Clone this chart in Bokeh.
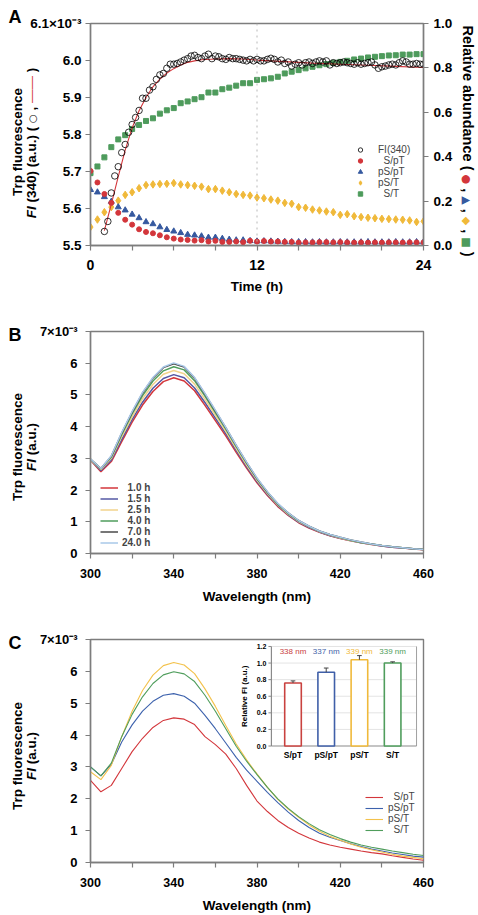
import math
from bokeh.plotting import figure
from bokeh.models import (Range1d, LinearAxis, FixedTicker, CustomJSTickFormatter,
                          Legend, LegendItem, Span, Div)
from bokeh.layouts import column
from bokeh.embed import file_html
from bokeh.resources import INLINE
from bokeh.core.properties import value

FONT = "Liberation Sans"
AX = "#7d7d7d"

C_RED = "#d3363b"
C_BLUE = "#36599f"
C_YEL = "#f0b93a"
C_GRN = "#4e9b5c"

# ---------------- Panel A data ----------------
fi_time = [1.0, 1.25, 1.5, 1.75, 2.0, 2.25, 2.5, 2.75, 3.0, 3.25, 3.5, 3.75, 4.0, 4.25, 4.5, 4.75,
           5.0, 5.25, 5.5, 5.75, 6.0, 6.25, 6.5, 6.75, 7.0, 7.25, 7.5, 7.75, 8.0, 8.25, 8.5, 8.75,
           9.0, 9.25, 9.5, 9.75, 10.0, 10.25, 10.5, 10.75, 11.0, 11.25, 11.5, 11.75, 12.0, 12.25,
           12.5, 12.75, 13.0, 13.25, 13.5, 13.75, 14.0, 14.25, 14.5, 14.75, 15.0, 15.25, 15.5,
           15.75, 16.0, 16.25, 16.5, 16.75, 17.0, 17.25, 17.5, 17.75, 18.0, 18.25, 18.5, 18.75,
           19.0, 19.25, 19.5, 19.75, 20.0, 20.25, 20.5, 20.75, 21.0, 21.25, 21.5, 21.75, 22.0,
           22.25, 22.5, 22.75, 23.0, 23.25, 23.5, 23.75, 24.0]
fi_340 = [5.538, 5.565, 5.642, 5.688, 5.713, 5.751, 5.773, 5.806, 5.827, 5.846, 5.865, 5.898,
          5.898, 5.920, 5.929, 5.949, 5.961, 5.965, 5.979, 5.990,
          5.990, 5.992, 5.996, 6.001, 6.005, 6.012, 6.014, 6.008, 6.005, 6.012, 6.017, 6.005,
          6.012, 6.010, 6.005, 6.003, 6.008, 6.005, 6.005, 6.003, 6.001, 5.999, 6.003, 5.999, 6.003,
          5.999, 5.999, 6.003, 6.006, 6.003, 5.996, 6.001, 5.992,
          5.996, 5.985, 5.990, 5.994, 5.988, 5.994, 5.996, 5.992,
          5.996, 5.999, 5.996, 5.999, 5.988, 5.994, 5.992, 5.994,
          5.996, 5.994, 5.992, 5.990, 5.994, 5.990, 5.992, 5.994,
          5.996, 5.988, 5.979, 5.983, 5.985, 5.988, 5.990, 5.988,
          5.994, 5.999, 5.996, 5.990, 5.990, 5.992, 5.990, 5.990]
fit_time = [1.0, 1.5, 2.0, 2.5, 3.0, 3.5, 4.0, 4.5, 5.0, 5.5, 6.0, 6.5, 7.0, 7.5, 8.0, 9.0, 10.0,
            11.0, 12.0, 14.0, 16.0, 18.0, 20.0, 22.0, 24.0]
fit_fi = [5.540, 5.612, 5.686, 5.758, 5.818, 5.864, 5.900, 5.929, 5.950, 5.966, 5.978, 5.988,
          5.995, 5.999, 6.002, 6.004, 6.005, 6.004, 6.001, 5.997, 5.993, 5.990, 5.987, 5.984, 5.981]

ab_time = [0.0, 0.5, 1.0, 1.5, 2.0, 2.5, 3.0, 3.5, 4.0, 4.5, 5.0, 5.5, 6.0, 6.5, 7.0, 7.5, 8.0,
           8.5, 9.0, 9.5, 10.0, 10.5, 11.0, 11.5, 12.0, 12.5, 13.0, 13.5, 14.0, 14.5, 15.0, 15.5,
           16.0, 16.5, 17.0, 17.5, 18.0, 18.5, 19.0, 19.5, 20.0, 20.5, 21.0, 21.5, 22.0, 22.5,
           23.0, 23.5, 24.0]
ab_S_pT = [0.336, 0.284, 0.232, 0.192, 0.147, 0.116, 0.094, 0.073, 0.061, 0.055, 0.046, 0.037,
           0.031, 0.027, 0.025, 0.022, 0.024, 0.018, 0.021, 0.016, 0.016, 0.018, 0.015, 0.021, 0.018,
           0.020, 0.018, 0.018, 0.016, 0.016, 0.013, 0.014, 0.014, 0.015, 0.015, 0.014, 0.015,
           0.014, 0.013, 0.014, 0.013, 0.014, 0.013, 0.014, 0.014, 0.013, 0.014, 0.014, 0.014]
ab_pS_pT = [0.251, 0.240, 0.219, 0.198, 0.173, 0.159, 0.140, 0.124, 0.106, 0.097, 0.083, 0.071,
            0.064, 0.057, 0.049, 0.046, 0.042, 0.036, 0.036, 0.031, 0.027, 0.024, 0.024, 0.021, 0.019,
            0.020, 0.019, 0.018, 0.017, 0.016, 0.016, 0.016, 0.015, 0.016, 0.015, 0.015, 0.016,
            0.015, 0.015, 0.015, 0.016, 0.015, 0.015, 0.015, 0.016, 0.015, 0.015, 0.016, 0.016]
ab_pS_T = [0.083, 0.117, 0.150, 0.173, 0.202, 0.228, 0.240, 0.258, 0.272, 0.275, 0.277, 0.278,
           0.281, 0.275, 0.272, 0.269, 0.265, 0.254, 0.254, 0.247, 0.240, 0.232, 0.228, 0.225, 0.216,
           0.213, 0.207, 0.202, 0.192, 0.188, 0.173, 0.170, 0.162, 0.158, 0.153, 0.150, 0.138,
           0.141, 0.132, 0.128, 0.125, 0.123, 0.120, 0.119, 0.117, 0.116, 0.113, 0.106, 0.109]
ab_S_T = [0.326, 0.356, 0.397, 0.443, 0.478, 0.497, 0.525, 0.543, 0.561, 0.573, 0.594, 0.609,
          0.619, 0.641, 0.649, 0.659, 0.668, 0.689, 0.689, 0.704, 0.711, 0.720, 0.731, 0.731, 0.746,
          0.749, 0.753, 0.760, 0.775, 0.783, 0.790, 0.798, 0.805, 0.812, 0.817, 0.823, 0.827,
          0.832, 0.838, 0.842, 0.847, 0.850, 0.853, 0.856, 0.857, 0.860, 0.860, 0.862, 0.862]
a_left_ticks = [5.5, 5.6, 5.7, 5.8, 5.9, 6.0, 6.1]
a_right_ticks = [0.0, 0.2, 0.4, 0.6, 0.8, 1.0]
a_x_ticks = [0, 12, 24]
a_x_minor = [3, 6, 9, 15, 18, 21]

# ---------------- Panel B data ----------------
wl = [300, 305, 310, 315, 320, 325, 330, 335, 340, 345, 350, 355, 360, 365, 370, 375, 380,
      385, 390, 395, 400, 405, 410, 415, 420, 425, 430, 435, 440, 445, 450, 455, 460]
b_1_0h = [2.94, 2.58, 2.90, 3.53, 4.14, 4.68, 5.11, 5.42, 5.54, 5.44, 5.13, 4.67, 4.19, 3.71, 3.19,
          2.69, 2.23, 1.83, 1.48, 1.20, 0.97, 0.80, 0.67, 0.56, 0.47, 0.40, 0.34, 0.28, 0.24, 0.20,
          0.17, 0.14, 0.12]
b_1_5h = [2.95, 2.62, 2.95, 3.60, 4.22, 4.77, 5.21, 5.52, 5.64, 5.54, 5.22, 4.76, 4.27, 3.78, 3.25,
          2.74, 2.27, 1.86, 1.51, 1.22, 0.99, 0.82, 0.68, 0.57, 0.48, 0.41, 0.34, 0.29, 0.24, 0.20,
          0.17, 0.15, 0.13]
b_2_5h = [2.96, 2.65, 3.00, 3.68, 4.31, 4.88, 5.33, 5.65, 5.77, 5.67, 5.34, 4.86, 4.36, 3.85, 3.31,
          2.79, 2.31, 1.89, 1.53, 1.24, 1.01, 0.84, 0.69, 0.58, 0.49, 0.41, 0.35, 0.29, 0.25, 0.21,
          0.18, 0.15, 0.13]
b_4_0h = [2.97, 2.67, 3.04, 3.75, 4.40, 4.98, 5.44, 5.76, 5.89, 5.79, 5.45, 4.96, 4.44, 3.92, 3.37,
          2.84, 2.35, 1.92, 1.55, 1.26, 1.03, 0.85, 0.70, 0.59, 0.50, 0.42, 0.35, 0.30, 0.25, 0.21,
          0.18, 0.15, 0.13]
b_7_0h = [2.98, 2.68, 3.07, 3.80, 4.46, 5.06, 5.53, 5.86, 5.98, 5.88, 5.53, 5.03, 4.50, 3.97, 3.41,
          2.87, 2.37, 1.94, 1.57, 1.28, 1.04, 0.86, 0.71, 0.60, 0.51, 0.43, 0.36, 0.30, 0.25, 0.21,
          0.18, 0.15, 0.13]
b_24_0h = [2.98, 2.68, 3.08, 3.82, 4.48, 5.08, 5.55, 5.88, 6.01, 5.90, 5.55, 5.05, 4.52, 3.98, 3.42,
           2.88, 2.38, 1.95, 1.58, 1.28, 1.04, 0.86, 0.71, 0.60, 0.51, 0.43, 0.36, 0.30, 0.25, 0.21,
           0.18, 0.15, 0.13]
b_labels = ["  1.0 h", "  1.5 h", "  2.5 h", "  4.0 h", "  7.0 h", "24.0 h"]
b_colors = ["#d3363b", "#5558a4", "#f2d38c", "#4f9d5c", "#4a4a4a", "#a9c8e8"]

# ---------------- Panel C data ----------------
c_S_pT = [2.58, 2.22, 2.42, 2.95, 3.48, 3.90, 4.24, 4.46, 4.54, 4.50, 4.33, 3.95, 3.70, 3.40, 2.95,
          2.42, 1.93, 1.60, 1.32, 1.10, 0.92, 0.77, 0.64, 0.55, 0.48, 0.42, 0.36, 0.31, 0.27, 0.21,
          0.16, 0.11, 0.07]
c_pS_pT = [3.00, 2.72, 3.08, 3.78, 4.32, 4.75, 5.06, 5.25, 5.30, 5.22, 5.00, 4.62, 4.20, 3.75, 3.30,
           2.90, 2.55, 2.20, 1.88, 1.58, 1.32, 1.10, 0.92, 0.79, 0.69, 0.59, 0.50, 0.42, 0.36, 0.30,
           0.25, 0.20, 0.17]
c_pS_T = [2.85, 2.60, 3.05, 3.95, 4.75, 5.40, 5.88, 6.18, 6.28, 6.20, 5.93, 5.45, 4.90, 4.30, 3.72,
          3.22, 2.78, 2.36, 1.98, 1.68, 1.42, 1.18, 0.98, 0.82, 0.70, 0.58, 0.48, 0.40, 0.33, 0.26,
          0.20, 0.16, 0.12]
c_S_T = [3.00, 2.72, 3.12, 3.95, 4.65, 5.20, 5.62, 5.89, 5.99, 5.92, 5.68, 5.25, 4.75, 4.20, 3.65,
         3.18, 2.76, 2.36, 2.00, 1.70, 1.44, 1.22, 1.03, 0.88, 0.75, 0.64, 0.55, 0.48, 0.42, 0.36,
         0.31, 0.26, 0.22]
c_labels = ["  S/pT", "pS/pT", "pS/T", "  S/T"]
c_colors = ["#d3363b", "#3d62ad", "#f3c24c", "#4f9d5c"]

inset_cats = ["S/pT", "pS/pT", "pS/T", "S/T"]
inset_rel = [0.76, 0.89, 1.04, 1.00]
inset_err = [0.025, 0.05, 0.05, 0.015]
inset_nm = ["338 nm", "337 nm", "339 nm", "339 nm"]
inset_colors = ["#c9423f", "#3f5fa8", "#f0b93a", "#4f9d5c"]
inset_ticks = [0.0, 0.2, 0.4, 0.6, 0.8, 1.0, 1.2]

bc_x_ticks = [300, 340, 380, 420, 460]
bc_x_minor = [320, 360, 400, 440]
bc_y_ticks = [0, 1, 2, 3, 4, 5, 6, 7]

HALF_PI = math.pi / 2
W = 478


def style_axis(ax, fs="13px", standoff=5, label_standoff=4):
    ax.axis_line_color = AX
    ax.axis_line_width = 1.4
    ax.major_tick_line_color = AX
    ax.minor_tick_line_color = AX
    ax.major_tick_line_width = 1.2
    ax.minor_tick_line_width = 1.2
    ax.major_tick_in = 0
    ax.major_tick_out = 5
    ax.minor_tick_in = 0
    ax.minor_tick_out = 5
    ax.major_label_text_font = FONT
    ax.major_label_text_font_style = "bold"
    ax.major_label_text_font_size = fs
    ax.major_label_text_color = "black"
    ax.major_label_standoff = standoff
    ax.axis_label_text_font = FONT
    ax.axis_label_text_font_style = "bold"
    ax.axis_label_text_font_size = "13.5px"
    ax.axis_label_text_color = "black"
    ax.axis_label_standoff = label_standoff


def base_fig(h, top, bottom, left, right, xr, yr):
    p = figure(width=W, height=h, x_range=xr, y_range=yr, output_backend="svg",
               toolbar_location=None, min_border_top=top, min_border_bottom=bottom,
               min_border_left=left, min_border_right=right)
    p.xgrid.visible = False
    p.ygrid.visible = False
    p.outline_line_color = AX
    p.outline_line_width = 1.4
    p.background_fill_color = "white"
    p.border_fill_color = "white"
    return p


def make_legend(items, loc, row_h, glyph_w, standoff, bold=False):
    return Legend(items=items, location=loc, padding=0, margin=0, spacing=0,
                  glyph_height=row_h, glyph_width=glyph_w, label_height=row_h,
                  label_standoff=standoff, label_text_font=FONT,
                  label_text_font_style=("bold" if bold else "normal"),
                  label_text_font_size="10px", label_text_line_height=1.0,
                  background_fill_alpha=0, border_line_alpha=0)


# ======================= Panel A =======================
# frame: x 88..423, y 23..247
pA = base_fig(296, 23, 49, 88, W - 88 - 335, Range1d(0, 24), Range1d(5.5, 6.1))
pA.extra_y_ranges = {"ab": Range1d(0, 1.0)}
ax_r = LinearAxis(y_range_name="ab")
pA.add_layout(ax_r, "right")

ax_b = pA.below[0]
ax_b.ticker = FixedTicker(ticks=a_x_ticks, minor_ticks=a_x_minor)
ax_b.axis_label = "Time (h)"
style_axis(ax_b, fs="14px", standoff=9, label_standoff=6)

ax_l = pA.left[0]
ax_l.ticker = FixedTicker(ticks=a_left_ticks)
ax_l.formatter = CustomJSTickFormatter(
    code="return tick > 6.05 ? '6.1\u00d710\u207b\u00b3' : tick.toFixed(1);")
style_axis(ax_l, fs="13.5px", standoff=4)

ax_r.ticker = FixedTicker(ticks=a_right_ticks)
ax_r.formatter = CustomJSTickFormatter(code="return tick.toFixed(1);")
style_axis(ax_r, fs="13.5px", standoff=5)

pA.add_layout(Span(location=12, dimension="height", line_color="#b8b8b8",
                   line_dash="dotted", line_width=1))

rS_T = pA.scatter(ab_time, ab_S_T, marker="square", size=5, color=C_GRN, y_range_name="ab")
rpS_T = pA.scatter(ab_time, ab_pS_T, marker="diamond", size=7.5, color=C_YEL, y_range_name="ab")
rpS_pT = pA.scatter(ab_time, ab_pS_pT, marker="triangle", size=6, color=C_BLUE, y_range_name="ab")
rS_pT = pA.scatter(ab_time, ab_S_pT, marker="circle", size=5, color=C_RED, y_range_name="ab")
pA.line(fit_time, fit_fi, line_color=C_RED, line_width=1.1)
rFI = pA.scatter(fi_time, fi_340, marker="circle", size=6.5, fill_alpha=0, line_color="black",
                 line_width=0.8)

legA = make_legend([LegendItem(label="FI(340)", renderers=[rFI]),
                    LegendItem(label="  S/pT", renderers=[rS_pT]),
                    LegendItem(label="pS/pT", renderers=[rpS_pT]),
                    LegendItem(label="pS/T", renderers=[rpS_T]),
                    LegendItem(label="  S/T", renderers=[rS_T])],
                   (264, 46), 11, 12, 12)
pA.add_layout(legA)


def spectra_fig(h, top, bottom):
    p = base_fig(h, top, bottom, 90, W - 90 - 335, Range1d(300, 460), Range1d(0, 7))
    axb = p.below[0]
    axb.ticker = FixedTicker(ticks=bc_x_ticks, minor_ticks=bc_x_minor)
    axb.axis_label = "Wavelength (nm)"
    style_axis(axb, fs="12.5px", standoff=10, label_standoff=8)
    axl = p.left[0]
    axl.ticker = FixedTicker(ticks=bc_y_ticks)
    axl.formatter = CustomJSTickFormatter(
        code="return tick > 6.5 ? '7\u00d710\u207b\u00b3' : tick.toFixed(0);")
    style_axis(axl, fs="13px", standoff=8)
    return p


# ======================= Panel B =======================
# frame: x 90..425, y 331..554  (figure spans 296..606)
pB = spectra_fig(310, 35, 52)
b_series = [b_1_0h, b_1_5h, b_2_5h, b_4_0h, b_7_0h, b_24_0h]
b_items = []
for vals, col, name in zip(b_series, b_colors, b_labels):
    r = pB.line(wl, vals, line_color=col, line_width=1.5)
    b_items.append(LegendItem(label=name, renderers=[r]))
pB.add_layout(make_legend(b_items, (10, 5), 11, 18, 4, bold=True))

# ======================= Panel C =======================
# frame: x 90..425, y 639..863  (figure spans 606..915)
pC = spectra_fig(309, 33, 52)
c_series = [c_S_pT, c_pS_pT, c_pS_T, c_S_T]
c_items = []
for vals, col, name in zip(c_series, c_colors, c_labels):
    r = pC.line(wl, vals, line_color=col, line_width=1.1)
    c_items.append(LegendItem(label=name, renderers=[r]))
pC.add_layout(make_legend(c_items, (275, 27), 10, 18, 5))

# ---- inset bar chart (own ranges inside panel C) ----
FW, FH = 335, 224
INS_L, INS_R, INS_T, INS_B = 182, 328, 7, 107
IX_LO, IX_HI = 0.35, 4.72
IY_HI = 1.2
ppx = (INS_R - INS_L) / (IX_HI - IX_LO)
ppy = (INS_B - INS_T) / IY_HI
pC.extra_x_ranges = {"ix": Range1d(IX_LO - INS_L / ppx, IX_LO + (FW - INS_L) / ppx)}
pC.extra_y_ranges = {"iy": Range1d(-(FH - INS_B) / ppy, IY_HI + INS_T / ppy)}
R = dict(x_range_name="ix", y_range_name="iy")

ipos = list(range(1, len(inset_cats) + 1))
pC.quad(left=[IX_LO], right=[IX_HI], bottom=[0], top=[IY_HI], fill_color="white",
        line_color=None, **R)
grid_vals = inset_ticks[1:]
pC.segment(x0=[IX_LO] * len(grid_vals), y0=grid_vals, x1=[IX_HI] * len(grid_vals),
           y1=grid_vals, line_color="#dcdcdc", line_width=0.8, **R)
pC.segment(x0=[IX_HI], y0=[0], x1=[IX_HI], y1=[IY_HI], line_color="#a0a0a0", line_width=1, **R)
pC.segment(x0=[IX_LO, IX_LO], y0=[0, 0], x1=[IX_LO, IX_HI], y1=[IY_HI, 0],
           line_color="#8a8a8a", line_width=1.2, **R)
tk = 3 / ppx
pC.segment(x0=[IX_LO - tk] * len(inset_ticks), y0=inset_ticks, x1=[IX_LO] * len(inset_ticks),
           y1=inset_ticks, line_color="#8a8a8a", line_width=1, **R)
pC.text(x=[IX_LO] * len(inset_ticks), y=inset_ticks, text=["%.1f" % t for t in inset_ticks],
        x_offset=-5, text_align="right", text_baseline="middle",
        text_font=value(FONT), text_font_style="bold", text_font_size=value("7px"),
        text_color="black", **R)
pC.vbar(x=ipos, top=inset_rel, width=0.5, bottom=0, fill_color="white",
        line_color=inset_colors, line_width=1.6, **R)
err_top = [v + e for v, e in zip(inset_rel, inset_err)]
pC.segment(x0=ipos, y0=inset_rel, x1=ipos, y1=err_top, line_color="#444444", line_width=1, **R)
cap = 0.07
pC.segment(x0=[x - cap for x in ipos], y0=err_top, x1=[x + cap for x in ipos], y1=err_top,
           line_color="#444444", line_width=1, **R)
pC.text(x=ipos, y=[0] * len(ipos), text=inset_cats, y_offset=4, text_align="center",
        text_baseline="top", text_font=value(FONT), text_font_style="bold",
        text_font_size=value("8.5px"), text_color="black", **R)
pC.text(x=ipos, y=[1.145] * len(ipos), text=inset_nm, text_align="center",
        text_baseline="middle", text_font=value(FONT), text_font_size=value("8px"),
        text_color=inset_colors, **R)
pC.text(x=[IX_LO - 27 / ppx], y=[0.6], text=["Relative FI (a.u.)"], angle=HALF_PI,
        text_align="center", text_baseline="middle", text_font=value(FONT),
        text_font_style="bold", text_font_size=value("8px"), text_color="black", **R)

# ======================= outer texts (panel letters, axis titles) =======================
def place(cx, cy, html, deg=0, size="13.5px"):
    return ("<div style=\"position:absolute;left:%spx;top:%spx;"
            "transform:translate(-50%%,-50%%) rotate(%sdeg);white-space:nowrap;"
            "font-family:'Liberation Sans',Arial,sans-serif;font-weight:bold;font-size:%s;"
            "line-height:1.1;color:#000;\">%s</div>") % (cx, cy, deg, size, html)


sym = "font-family:'DejaVu Sans';font-weight:normal;font-size:10px;"
sym2 = "font-family:'DejaVu Sans';font-weight:normal;font-size:11px;"
a_line2 = ("<i>FI</i> (340) (a.u.) ( <span style=\"%s\">\u25cb</span> , "
           "<span style=\"color:%s;font-weight:normal;\">\u2014\u2014</span> )") % (sym, C_RED)
a_right = ("Relative abundance ( <span style=\"%scolor:%s\">\u25cf</span> , "
           "<span style=\"%scolor:%s\">\u25b2</span> , "
           "<span style=\"%scolor:%s\">\u25c6</span> , "
           "<span style=\"%scolor:%s\">\u25a0</span> )") % (sym2, C_RED, sym2, C_BLUE,
                                                             sym2, C_YEL, sym2, C_GRN)
parts = [
    place(10, 13, "A", size="18px"),
    place(13, 137, "Trp fluorescence", -90),
    place(27, 138, a_line2, -90),
    place(462, 136, a_right, 90, size="14.5px"),
    place(10, 331, "B", size="18px"),
    place(13, 442, "Trp fluorescence", -90),
    place(27, 442, "<i>FI</i> (a.u.)", -90),
    place(10, 639, "C", size="18px"),
    place(13, 751, "Trp fluorescence", -90),
    place(27, 751, "<i>FI</i> (a.u.)", -90),
]
overlay = Div(text="".join(parts), width=W, height=2,
              styles={"position": "absolute", "left": "0px", "top": "0px",
                      "z-index": "10", "pointer-events": "none", "overflow": "visible"})

layout = column(pA, pB, pC, overlay)
open("out.html", "w").write(file_html(layout, INLINE))
